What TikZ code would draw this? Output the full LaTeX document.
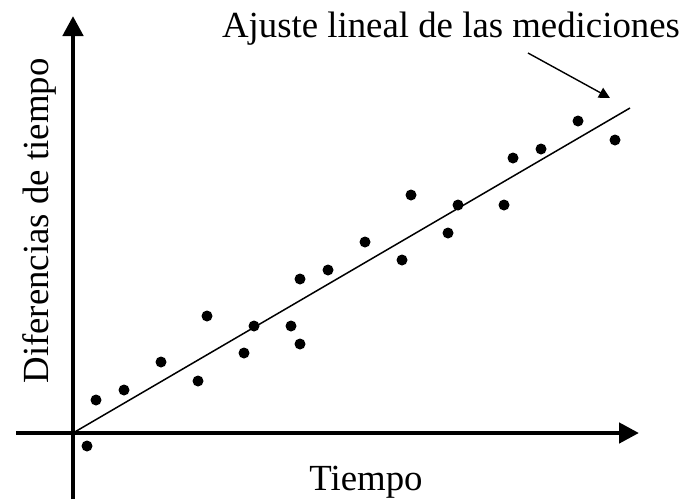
\documentclass[tikz,border=0pt]{standalone}
\usepackage{fontspec}
\setmainfont{Liberation Serif}
\usetikzlibrary{arrows.meta}
\begin{document}
\begin{tikzpicture}[x=1pt,y=-1pt,
  axis/.style={line width=4.6pt,-{Triangle[length=20pt,width=20pt]}},
  dot/.style={circle,fill=black,inner sep=0pt,minimum size=11pt},
  lbl/.style={inner sep=0pt,font=\fontsize{36.8}{40}\selectfont}]
\useasboundingbox (0,0) rectangle (686,499);
% axes
\coordinate (xl) at (16,433);
\coordinate (xr) at (639,433);
\coordinate (yb) at (73,499);
\coordinate (yt) at (73,16);
\coordinate (o) at (73,433);
\coordinate (fe) at (630,108);
\draw[axis] (xl) -- (xr);
\draw[axis] (yb) -- (yt);
% fit line
\draw[line width=1.5pt] (o) -- (fe);
% dots
\foreach \i/\x/\y in {1/87/446,2/96/400,3/124/390,4/161/362,5/198/381,6/207/316,7/244/353,8/254/326,9/291/326,10/300/344,11/300/279,12/328/270,13/365/242,14/402/260,15/411/195,16/448/233,17/458/205,18/504/205,19/513/158,20/541/149,21/578/121,22/615/140}
  \node[dot] (d\i) at (\x,\y) {};
% labels
\node[lbl,anchor=base] (fit) at (451,37) {Ajuste lineal de las mediciones};
\node[lbl,anchor=base] (tx) at (366,490) {Tiempo};
\node[lbl,anchor=base,rotate=90] (ty) at (48,221) {Diferencias de tiempo};
% annotation arrow
\coordinate (as) at (528,53);
\coordinate (at) at (610,98);
\draw[line width=1.4pt,-{Triangle[length=11pt,width=11pt]}] (as) -- (at);
\end{tikzpicture}
\end{document}
